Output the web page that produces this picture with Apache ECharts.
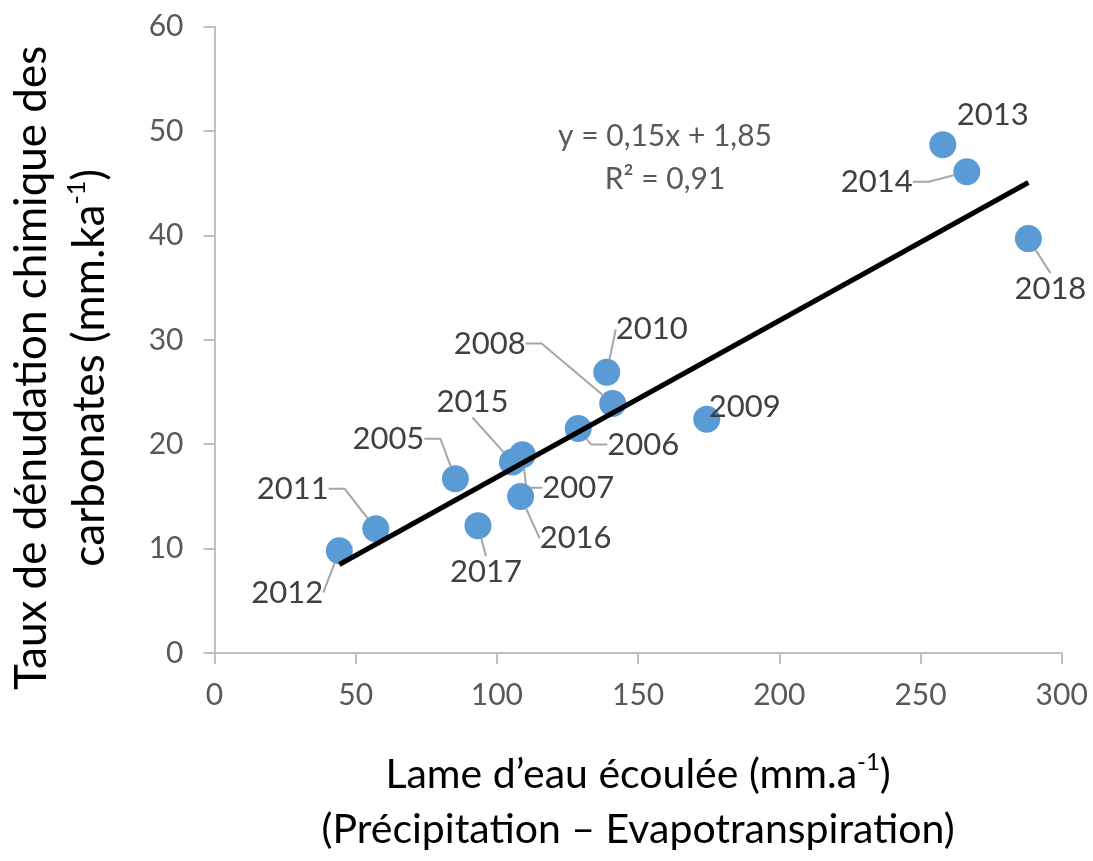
<!DOCTYPE html>
<html>
<head>
<meta charset="utf-8">
<script src="https://cdn.jsdelivr.net/npm/echarts@6/dist/echarts.min.js"></script>
<style>
  html, body { margin: 0; padding: 0; background: #ffffff; }
  #chart { width: 1093px; height: 861px; }
</style>
</head>
<body>
<div id="chart"></div>
<script>
// Annual values: runoff depth (mm/a) vs. chemical denudation rate of carbonates (mm/ka)
const years = ['2005', '2006', '2007', '2008', '2009', '2010', '2011',
               '2012', '2013', '2014', '2015', '2016', '2017', '2018'];
const runoff = [85.3, 128.8, 109.0, 141.0, 174.3, 138.9, 57.1,
                44.2, 257.9, 266.4, 105.5, 108.4, 93.3, 288.2];
const denudation = [16.7, 21.5, 19.0, 23.9, 22.4, 26.9, 11.9,
                    9.8, 48.7, 46.1, 18.3, 15.0, 12.2, 39.7];

// Linear fit reported on the chart
const slope = 0.15;
const intercept = 1.85;
const rSquared = 0.91;

const xTicks = { min: 0, max: 300, interval: 50 };
const yTicks = { min: 0, max: 60, interval: 10 };

// Label offsets (px) from each point, in the same order as years
const labelOffsets = [
  [-67, -40], [65, 16], [56, 33], [-123, -60], [38, -12], [45, -43], [-83, -40],
  [-52, 42], [50, -30], [-90, 10], [-40, -60], [55, 42], [8, 46], [22, 50]
];
// Leader line shape per label: 'elbow', 'straight' or 'none'
const leaderShapes = [
  'elbow', 'elbow', 'elbow', 'elbow', 'none', 'straight', 'elbow',
  'straight', 'none', 'elbow', 'straight', 'straight', 'straight', 'straight'
];

const FONT = 'Lato, "Noto Sans", sans-serif';
const fr = v => v.toFixed(2).replace('.', ',');

const points = years.map((y, i) => ({
  name: y,
  value: [runoff[i], denudation[i]],
  labelLine: {
    show: leaderShapes[i] !== 'none',
    length2: leaderShapes[i] === 'elbow' ? 16 : 0
  }
}));

const xMin = Math.min(...runoff);
const xMax = Math.max(...runoff);
const trend = [[xMin, slope * xMin + intercept], [xMax, slope * xMax + intercept]];

const chart = echarts.init(document.getElementById('chart'), null, { renderer: 'canvas' });

const axisGrey = '#BFBFBF';

chart.setOption({
  animation: false,
  backgroundColor: '#ffffff',
  grid: {
    left: 214.5, right: 31.3, top: 26.7, bottom: 208,
    containLabel: false, outerBoundsMode: 'none'
  },
  xAxis: {
    type: 'value',
    min: xTicks.min, max: xTicks.max, interval: xTicks.interval,
    axisLine: { show: true, lineStyle: { color: axisGrey, width: 2 } },
    axisTick: { show: true, length: 11, lineStyle: { color: axisGrey, width: 2 } },
    splitLine: { show: false },
    axisLabel: { color: '#595959', fontSize: 30, fontFamily: FONT, margin: 27 },
    name: '{a|Lame d\u2019eau écoulée (mm.a}{s|-1}{a|)}\n{a|(Précipitation \u2013 Evapotranspiration)}',
    nameLocation: 'middle',
    nameGap: 94,
    nameTextStyle: {
      color: '#000000', fontFamily: FONT, fontSize: 41, lineHeight: 55,
      rich: {
        a: { fontSize: 41, fontFamily: FONT, color: '#000000', lineHeight: 55 },
        s: { fontSize: 24, fontFamily: FONT, color: '#000000', padding: [0, 0, 24, 0] }
      }
    }
  },
  yAxis: {
    type: 'value',
    min: yTicks.min, max: yTicks.max, interval: yTicks.interval,
    axisLine: { show: true, lineStyle: { color: axisGrey, width: 2 } },
    axisTick: { show: true, length: 11, lineStyle: { color: axisGrey, width: 2 } },
    splitLine: { show: false },
    axisLabel: { color: '#595959', fontSize: 30, fontFamily: FONT, margin: 31 },
    name: '{a|Taux de dénudation chimique des}\n{a|carbonates (mm.ka}{s|-1}{a|)}',
    nameLocation: 'middle',
    nameRotate: 90,
    nameGap: 96,
    nameTextStyle: {
      color: '#000000', fontFamily: FONT, fontSize: 44, lineHeight: 58,
      padding: [0, 56, 0, 0],
      rich: {
        a: { fontSize: 44, fontFamily: FONT, color: '#000000', lineHeight: 58 },
        s: { fontSize: 25, fontFamily: FONT, color: '#000000', padding: [0, 0, 26, 0] }
      }
    }
  },
  graphic: [{
    type: 'text',
    x: 665, y: 115,
    z: 10,
    style: {
      text: 'y = ' + fr(slope) + 'x + ' + fr(intercept) + '\nR\u00B2 = ' + fr(rSquared),
      fill: '#595959',
      font: '30px ' + FONT,
      lineHeight: 43,
      align: 'center',
      verticalAlign: 'top'
    }
  }],
  series: [
    {
      type: 'scatter',
      data: points,
      symbolSize: 27,
      z: 2,
      itemStyle: { color: '#5B9BD5', opacity: 1 },
      label: {
        show: true,
        position: 'inside',
        formatter: '{b}',
        color: '#404040',
        fontSize: 31,
        fontFamily: FONT,
        padding: [2, 6]
      },
      labelLine: {
        show: true,
        lineStyle: { color: '#A6A6A6', width: 2 }
      },
      labelLayout: function (p) {
        const o = labelOffsets[p.dataIndex];
        return { dx: o[0], dy: o[1] };
      }
    },
    {
      type: 'line',
      data: trend,
      z: 3,
      symbol: 'none',
      silent: true,
      lineStyle: { color: '#000000', width: 5 }
    }
  ]
});
</script>
</body>
</html>
